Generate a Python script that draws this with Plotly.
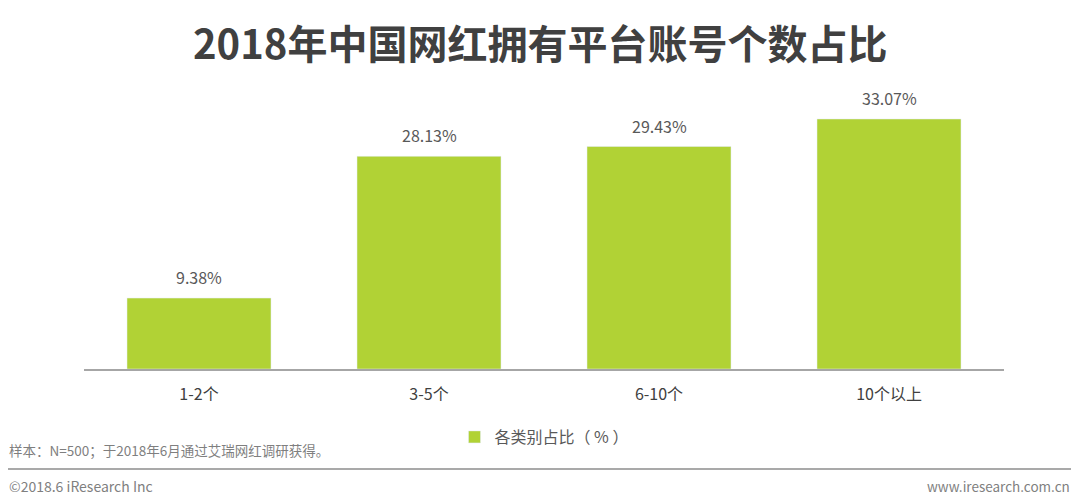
import plotly.graph_objects as go

# data
categories = ["1-2个", "3-5个", "6-10个", "10个以上"]
shares = [9.38, 28.13, 29.43, 33.07]
series_name = "各类别占比（ % ）"

title_text = "2018年中国网红拥有平台账号个数占比"
note_text = "样本：N=500；于2018年6月通过艾瑞网红调研获得。"
copyright_text = "©2018.6 iResearch Inc"
site_text = "www.iresearch.com.cn"

W, H = 1080, 502
L, R, T, B = 84, 1004, 94, 369  # plot area in pixels
FONT = "Noto Sans CJK SC, Microsoft YaHei, sans-serif"
GREEN = "#b1d235"


def px_x(x):
    return (x - L) / (R - L)


def px_y(y):
    return (B - y) / (B - T)


fig = go.Figure()
fig.add_trace(go.Bar(
    x=categories,
    y=shares,
    name=series_name,
    marker_color=GREEN,
    showlegend=True,
))

# value labels above bars
for c, v in zip(categories, shares):
    fig.add_annotation(
        x=c, y=v, text=f"{v:.2f}%", showarrow=False,
        yanchor="bottom", yshift=7,
        font=dict(family=FONT, size=16, color="#595959"),
    )

# title
fig.add_annotation(
    x=px_x(540), y=px_y(42), xref="paper", yref="paper",
    text=f"<b>{title_text}</b>", showarrow=False,
    xanchor="center", yanchor="middle",
    font=dict(family=FONT, size=40, color="#404040"),
)

# footnote
fig.add_annotation(
    x=px_x(7), y=px_y(450), xref="paper", yref="paper",
    text=note_text, showarrow=False, xanchor="left", yanchor="middle",
    font=dict(family=FONT, size=13.5, color="#7f7f7f"),
)
fig.add_annotation(
    x=px_x(7), y=px_y(486), xref="paper", yref="paper",
    text=copyright_text, showarrow=False, xanchor="left", yanchor="middle",
    font=dict(family=FONT, size=14, color="#7f7f7f"),
)
fig.add_annotation(
    x=px_x(1072), y=px_y(486), xref="paper", yref="paper",
    text=site_text, showarrow=False, xanchor="right", yanchor="middle",
    font=dict(family=FONT, size=13.5, color="#7f7f7f"),
)

# footer rule
fig.add_shape(
    type="line", xref="paper", yref="paper",
    x0=px_x(8), x1=px_x(1071), y0=px_y(469), y1=px_y(469),
    line=dict(color="#8c8c8c", width=1.5),
)

fig.update_layout(
    width=W, height=H,
    margin=dict(l=L, r=W - R, t=T, b=H - B),
    paper_bgcolor="white", plot_bgcolor="white",
    bargap=0.374,
    font=dict(family=FONT, color="#404040"),
    legend=dict(
        orientation="h", x=0.5, xanchor="center",
        y=px_y(437), yanchor="middle",
        font=dict(family=FONT, size=16, color="#595959"),
        itemwidth=30,
    ),
    xaxis=dict(
        showline=True, linecolor="#a6a6a6", linewidth=1.5,
        ticks="", showgrid=False, ticklabelstandoff=10,
        tickfont=dict(family=FONT, size=16, color="#404040"),
    ),
    yaxis=dict(
        range=[0, (B - T) / 7.56], visible=False, showgrid=False,
    ),
)

# drop the default page margin so the figure sits at the window origin
fig.write_html(
    "out.html",
    config={"displayModeBar": False},
    post_script="document.body.style.margin='0';",
)
